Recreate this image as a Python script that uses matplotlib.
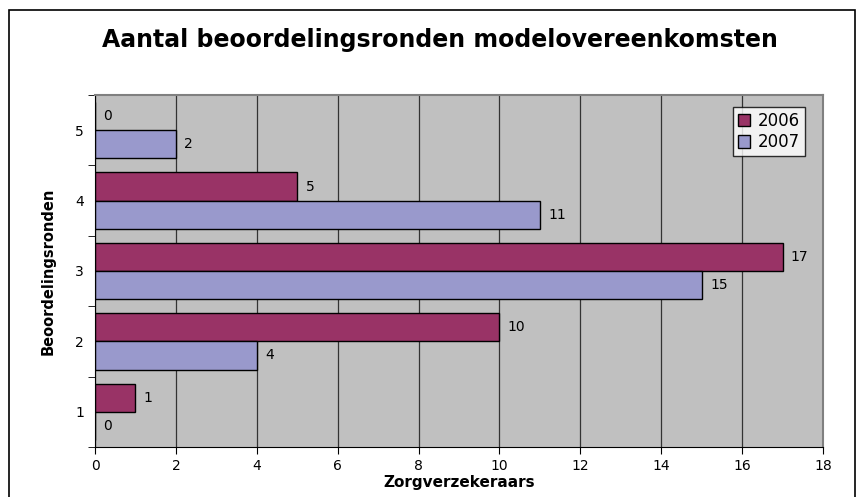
import matplotlib.pyplot as plt
import numpy as np
from matplotlib.patches import Rectangle

# Data
rondes = ['1', '2', '3', '4', '5']
vals_2006 = [1, 10, 17, 5, 0]
vals_2007 = [0, 4, 15, 11, 2]
x_ticks = [0, 2, 4, 6, 8, 10, 12, 14, 16, 18]

W, H = 857, 497
fig = plt.figure(figsize=(W / 100, H / 100), dpi=100)
ax = fig.add_axes([95 / W, 1 - 447 / H, (823 - 95) / W, (447 - 95) / H])

ax.set_facecolor('#C0C0C0')
ax.set_axisbelow(True)

y = np.arange(len(rondes))
h = 0.4
b06 = ax.barh(y + h / 2, vals_2006, height=h, color='#993366', edgecolor='black',
              linewidth=1, label='2006')
b07 = ax.barh(y - h / 2, vals_2007, height=h, color='#9999CC', edgecolor='black',
              linewidth=1, label='2007')

# value labels
for bars, vals in ((b06, vals_2006), (b07, vals_2007)):
    for rect, v in zip(bars, vals):
        ax.annotate(str(v), (v, rect.get_y() + rect.get_height() / 2),
                    xytext=(6, 0), textcoords='offset points',
                    ha='left', va='center', fontsize=10)

ax.set_xlim(0, 18)
ax.set_ylim(-0.5, len(rondes) - 0.5)
ax.set_xticks(x_ticks)
ax.set_yticks(y)
ax.set_yticklabels(rondes)
ax.set_yticks(np.arange(-0.5, len(rondes), 1), minor=True)
ax.tick_params(axis='y', which='major', length=0, pad=8, labelsize=10)
ax.tick_params(axis='y', which='minor', length=5, direction='out')
ax.tick_params(axis='x', length=5, labelsize=10, pad=4)
ax.grid(axis='x', color='#333333', linewidth=0.9)

for side in ('top', 'right'):
    ax.spines[side].set_color('#808080')
    ax.spines[side].set_linewidth(1.5)

ax.set_xlabel('Zorgverzekeraars', fontsize=11, fontweight='bold', labelpad=1)
ax.set_ylabel('Beoordelingsronden', fontsize=10.5, fontweight='bold', labelpad=14)

fig.text(440 / W, 1 - 40 / H, 'Aantal beoordelingsronden modelovereenkomsten',
         fontsize=17, fontweight='bold', ha='center', va='center')

leg = ax.legend(loc='upper right', bbox_to_anchor=(805 / W, 1 - 107 / H),
                bbox_transform=fig.transFigure, fontsize=12, frameon=True,
                fancybox=False, edgecolor='black', borderpad=0.3,
                borderaxespad=0, handlelength=0.75, handleheight=0.75,
                handletextpad=0.45, labelspacing=0.2)
leg.get_frame().set_linewidth(1)
leg._legend_box.sep = 0
for t in leg.get_texts():
    t.set_x(0)

fig.patches.append(Rectangle((9 / W, -0.02), (855 - 9) / W, 1 - 10 / H + 0.02,
                             transform=fig.transFigure, fill=False,
                             edgecolor='black', linewidth=1.2))

fig.savefig('out.png', dpi=100)
